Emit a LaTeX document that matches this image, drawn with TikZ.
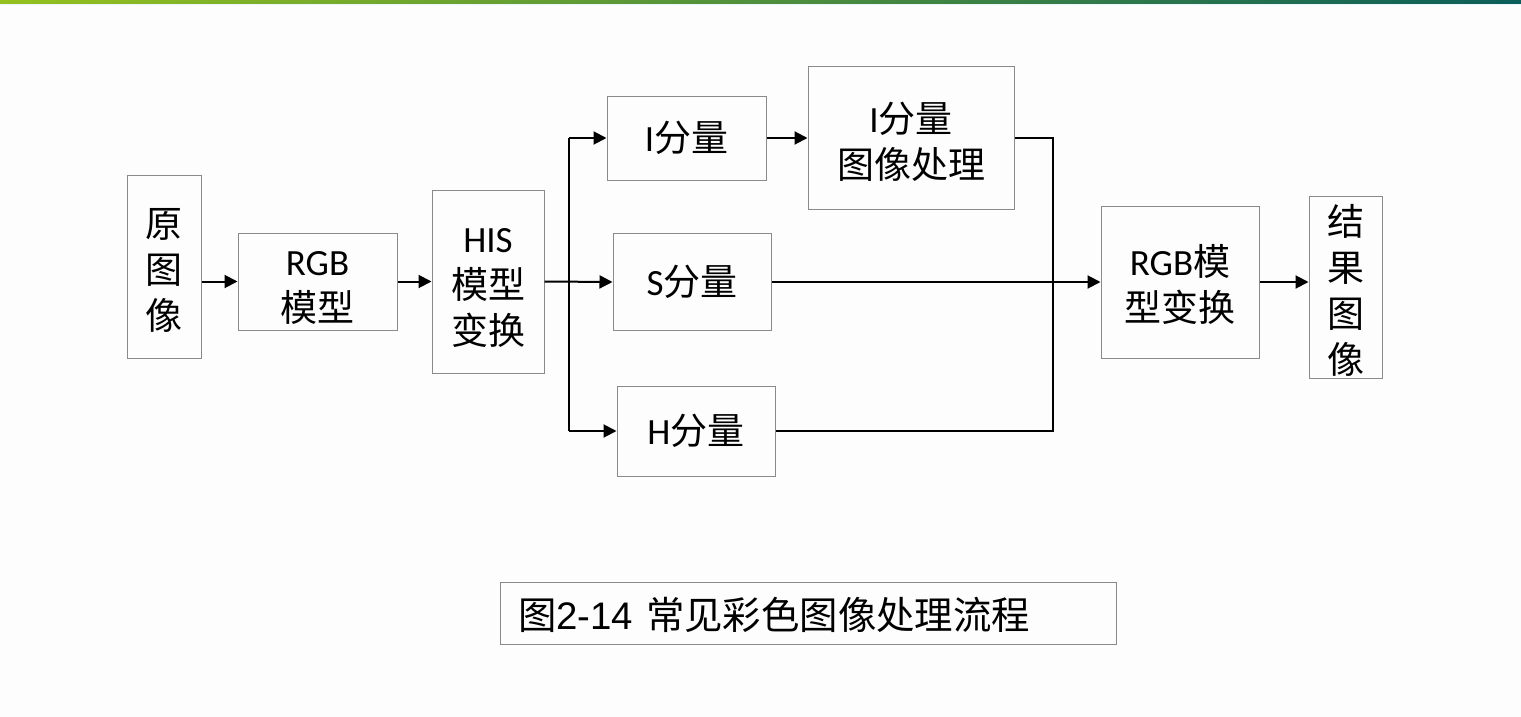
\documentclass[tikz,border=0pt]{standalone}
\usepackage{fontspec}
\setmainfont{Carlito}
\newfontfamily\cjk{Noto Sans CJK SC}
\newfontfamily\capl{Liberation Sans}
\usetikzlibrary{arrows.meta}
\definecolor{boxgray}{HTML}{8A8A8A}
\definecolor{barL}{HTML}{95C11F}
\definecolor{barR}{HTML}{0B5E5A}
\definecolor{bg}{HTML}{FDFDFD}
\newcommand\firstline{\rule{0pt}{37pt}}
\begin{document}
\begin{tikzpicture}[x=1pt,y=-1pt,
  box/.style={draw=boxgray, line width=1pt, inner sep=0pt, align=center,
    font=\fontsize{37}{46}\selectfont},
  conn/.style={line width=2pt, black},
  arr/.style={conn, -{Triangle[length=13pt,width=13pt]}}]
\fill[bg] (0,0) rectangle (1521,717);
\useasboundingbox (0,0) rectangle (1521,717);
\shade[left color=barL, right color=barR] (0,0) rectangle (1521,4);
\fill[cyan!10] (0,4) rectangle (1521,5.5);

\node[box, minimum width=74pt, minimum height=183pt] (orig) at (164,266.5) {\firstline\cjk 原\\\cjk 图\\\cjk 像};
\node[box, minimum width=159pt, minimum height=97pt] (rgb) at (317.5,281.5) {\firstline RGB\\\cjk 模型};
\node[box, minimum width=112pt, minimum height=183pt] (his) at (488,281.5) {\firstline HIS\\\cjk 模型\\\cjk 变换};
\node[box, minimum width=159pt, minimum height=84pt] (ic) at (686.5,138) {I{\cjk 分量}};
\node[box, minimum width=206pt, minimum height=143pt] (ip) at (911,138) {\firstline I{\cjk 分量}\\\cjk 图像处理};
\node[box, minimum width=158pt, minimum height=97pt] (sc) at (692,282) {S{\cjk 分量}};
\node[box, minimum width=158pt, minimum height=90pt] (hc) at (696,431) {H{\cjk 分量}};
\node[box, minimum width=158pt, minimum height=152pt] (rgbt) at (1180,282) {\firstline RGB{\cjk 模}\\\cjk 型变换};
\node[box, minimum width=73pt, minimum height=182pt] (res) at (1345.5,287) {\firstline\cjk 结\\\cjk 果\\\cjk 图\\\cjk 像};
\node[box, minimum width=616pt, minimum height=62pt, text width=580pt, align=left,
  font=\fontsize{38.4}{46}\selectfont] (cap) at (808,613)
  {\rule{0pt}{36pt}{\cjk 图}{\capl 2-14} {\cjk 常见彩色图像处理流程}};

\coordinate (br) at (569,282);
\coordinate (mg) at (1053,431);

\draw[arr] (orig.east |- rgb.west) -- (rgb.west);
\draw[arr] (rgb.east) -- (his.west);
\draw[arr] (his.east) -- (sc.west);
\draw[conn] (br |- ic.west) -- (br |- hc.west);
\draw[arr] (br |- ic.west) -- (ic.west);
\draw[arr] (br |- hc.west) -- (hc.west);
\draw[arr] (ic.east) -- (ip.west |- ic.east);
\draw[conn] (ip.east) -| (mg) -- (hc.east);
\draw[arr] (sc.east) -- (rgbt.west |- sc.east);
\draw[arr] (rgbt.east) -- (res.west |- rgbt.east);
\end{tikzpicture}
\end{document}
